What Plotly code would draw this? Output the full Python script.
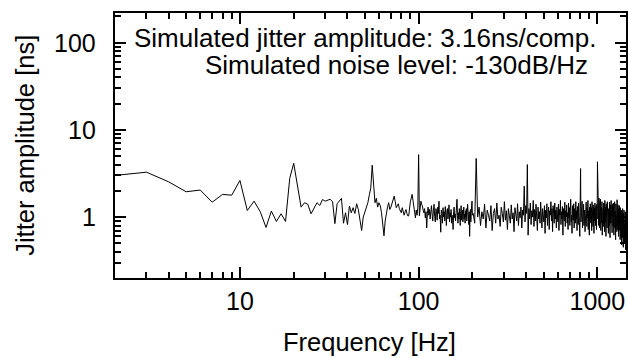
import numpy as np
import plotly.graph_objects as go

# Frequencies [Hz] and jitter amplitude [ns]
freq_low = list(range(2, 31))
amp_low = [3.00, 3.27, 2.53, 1.95, 2.04, 1.48, 1.82, 1.78, 2.63, 1.19,
           1.52, 1.15, 0.76, 1.17, 0.89, 1.09, 0.89, 2.77, 4.14, 2.16,
           1.30, 1.46, 1.40, 1.09, 1.28, 1.46, 1.36, 1.59, 1.52]

freq_mid = list(range(31, 101))
amp_mid = [1.55, 1.60, 1.50, 0.84, 1.42, 1.52, 1.64, 0.85, 1.12, 0.82,
           1.34, 1.12, 1.28, 1.10, 1.42, 1.22, 0.95, 0.70, 1.00, 1.12,
           1.30, 1.46, 1.80, 2.16, 3.93, 2.36, 1.46, 1.64, 1.30, 1.46,
           1.35, 1.12, 0.85, 0.61, 0.90, 1.12, 1.30, 1.46, 1.22, 1.30,
           1.42, 1.55, 1.74, 1.50, 1.28, 1.35, 1.42, 1.25, 1.18, 1.12,
           1.28, 1.15, 1.05, 1.15, 1.22, 1.10, 1.03, 1.03, 1.30, 1.52,
           1.65, 1.82, 1.55, 1.34, 1.15, 0.98, 1.20, 1.05, 1.30, 5.20]

freq_c = list(range(101, 201))
amp_c = [1.03, 1.30, 1.52, 1.40, 1.34, 1.20, 1.12, 1.25, 0.98, 1.15,
         0.75, 1.10, 1.30, 1.05, 1.22, 0.95, 1.18, 1.35, 1.08, 0.90,
         1.20, 1.40, 1.02, 0.88, 1.25, 1.15, 0.92, 1.30, 1.10, 1.52,
         0.95, 1.05, 0.67, 1.20, 1.10, 0.85, 1.28, 1.00, 1.15, 0.90,
         1.32, 1.05, 0.80, 1.18, 1.25, 0.95, 1.10, 1.38, 0.88, 1.12,
         1.00, 1.22, 0.85, 1.05, 0.92, 0.72, 1.15, 1.30, 0.98, 1.08,
         0.90, 1.20, 1.45, 1.60, 1.05, 0.85, 1.12, 0.95, 1.25, 1.02,
         0.80, 1.15, 1.35, 0.92, 1.05, 1.20, 0.88, 1.10, 1.30, 0.95,
         1.08, 0.85, 1.18, 1.00, 1.25, 0.90, 1.12, 1.40, 0.95, 1.05,
         0.82, 1.15, 0.60, 1.00, 1.22, 0.88, 1.10, 1.35, 1.52, 1.05]

freq_high = list(range(202, 1451, 4))
amp_high = [
    1.10, 0.85, 4.70, 1.00, 1.30, 0.80, 1.15, 0.95, 1.40, 0.75, 1.20, 1.05, 0.90, 1.35, 0.70, 1.10, 1.25, 0.85, 1.45, 0.95,
    1.05, 0.78, 1.30, 1.10, 0.88, 1.50, 0.92, 1.18, 0.72, 1.25, 1.00, 0.85, 1.38, 0.95, 1.12, 0.68, 1.28, 1.05, 0.90, 1.42,
    0.80, 1.15, 0.98, 1.30, 0.75, 1.20, 1.05, 2.26, 0.88, 1.35, 1.10, 4.00, 0.62, 1.25, 0.95, 1.45, 0.82, 1.18, 1.00, 1.55,
    0.78, 1.22, 0.90, 1.40, 1.05, 0.70, 1.30, 0.95, 1.15, 0.85, 1.48, 1.00, 0.75, 1.25, 1.10, 0.88, 1.35, 0.65, 1.20, 0.98,
    1.42, 0.80, 1.12, 1.30, 0.72, 1.18, 1.05, 1.50, 0.90, 1.25, 0.68, 1.35, 1.00, 0.85, 1.45, 0.95, 1.20, 0.75, 1.30, 1.08,
    0.88, 1.40, 0.70, 1.22, 1.05, 1.55, 0.82, 1.15, 0.95, 1.32, 0.62, 1.25, 1.10, 0.90, 1.48, 0.78, 1.18, 1.00, 1.38, 0.85,
    1.12, 0.72, 1.45, 0.98, 1.28, 0.80, 1.20, 1.60, 0.88, 1.05, 0.65, 1.35, 1.15, 0.92, 1.42, 0.75, 1.25, 1.02, 0.85, 1.50,
    0.95, 1.18, 0.70, 1.32, 1.08, 0.82, 1.45, 0.90, 1.22, 0.60, 1.38, 3.60, 0.88, 1.15, 1.00, 1.52, 0.75, 1.28, 0.95, 1.40,
    0.80, 1.20, 1.05, 0.68, 1.35, 0.92, 1.48, 1.10, 0.78, 1.25, 0.98, 1.55, 0.72, 1.18, 1.02, 0.62, 1.30, 0.88, 1.42, 1.05,
    0.85, 1.28, 0.70, 1.50, 0.95, 1.15, 0.78, 1.38, 1.05, 0.65, 1.25, 0.90, 1.45, 1.00, 0.80, 1.32, 1.10, 0.72, 1.40, 0.95,
    4.30, 1.70, 0.90, 1.55, 0.80, 1.65, 1.05, 0.75, 1.45, 0.95, 1.60, 0.70, 1.30, 1.10, 0.85, 1.50, 0.62, 1.40, 1.00, 1.25,
    0.78, 1.45, 0.95, 1.20, 0.68, 1.55, 0.88, 1.30, 1.05, 0.60, 1.42, 0.92, 1.18, 0.75, 1.50, 1.00, 0.85, 1.35, 0.65, 1.25,
    1.08, 0.80, 1.48, 0.95, 0.58, 1.38, 1.12, 0.85, 1.55, 0.72, 1.22, 1.00, 0.66, 1.40, 0.90, 1.28, 0.78, 1.45, 1.02, 0.62,
    1.32, 0.88, 1.50, 0.75, 1.18, 0.95, 0.55, 1.42, 1.05, 0.82, 1.30, 0.68, 1.58, 0.92, 1.20, 0.72, 1.38, 0.85, 0.60, 1.25,
    0.95, 0.70, 1.35, 0.80, 1.15, 0.55, 1.28, 0.88, 0.62, 1.20, 0.75, 1.05, 0.48, 1.18, 0.82, 0.58, 1.25, 0.70, 0.95, 0.45,
    1.10, 0.65, 1.20, 0.78, 0.50, 1.05, 0.85, 0.60, 1.15, 0.72, 0.42, 0.98, 0.80]

x_ticks = [10, 100, 1000]
y_ticks = [1, 10, 100]
x_minor = [d * m for m in (1, 10, 100, 1000) for d in range(2, 10)]
y_minor = [d * m for m in (0.1, 1, 10, 100) for d in range(2, 10)]

title_line1 = "Simulated jitter amplitude: 3.16ns/comp."
title_line2 = "Simulated noise level: -130dB/Hz"

freq = freq_low + freq_mid + freq_c + freq_high
amp = amp_low + amp_mid + amp_c + amp_high

FONT = "Liberation Sans, Arial, sans-serif"

fig = go.Figure()
fig.add_trace(go.Scatter(x=freq, y=amp, mode="lines",
                         line=dict(color="black", width=1),
                         showlegend=False, hoverinfo="skip"))

L, R, T, B = 115, 0, 13, 80
W, H = 628, 358
pw, ph = W - L - R, H - T - B

axis_common = dict(type="log", showgrid=False, zeroline=False,
                   showline=True, linecolor="black", linewidth=2,
                   mirror="ticks", ticks="inside", ticklen=11, tickwidth=2,
                   tickcolor="black",
                   tickfont=dict(family=FONT, size=25, color="black"))

fig.update_layout(
    width=W, height=H, autosize=False,
    margin=dict(l=L, r=R, t=T, b=B, pad=0),
    paper_bgcolor="white", plot_bgcolor="white",
    xaxis=dict(axis_common, range=[np.log10(2), np.log10(2) + pw / 179.4],
               tickvals=x_ticks, ticktext=[str(v) for v in x_ticks],
               minor=dict(ticks="inside", ticklen=6, tickwidth=2,
                          tickcolor="black", tickvals=x_minor)),
    yaxis=dict(axis_common, range=[np.log10(0.2), np.log10(0.2) + ph / 87.2],
               tickvals=y_ticks, showticklabels=False,
               minor=dict(ticks="inside", ticklen=6, tickwidth=2,
                          tickcolor="black", tickvals=y_minor)),
)

def px_x(p):
    return (p - L) / pw

def px_y(p):
    return (H - B - p) / ph

# y tick labels, placed right-aligned at a fixed gap left of the axis
for v in y_ticks:
    fig.add_annotation(text=str(v), xref="paper", yref="y",
                       x=px_x(98), y=np.log10(v), xanchor="right", yanchor="middle",
                       showarrow=False, font=dict(family=FONT, size=25, color="black"))

fig.add_annotation(text=title_line1, xref="paper", yref="paper",
                   x=px_x(600), y=px_y(38), xanchor="right", yanchor="middle",
                   showarrow=False, font=dict(family=FONT, size=26, color="black"))
fig.add_annotation(text=title_line2, xref="paper", yref="paper",
                   x=px_x(592), y=px_y(65), xanchor="right", yanchor="middle",
                   showarrow=False, font=dict(family=FONT, size=26, color="black"))
fig.add_annotation(text="Frequency [Hz]", xref="paper", yref="paper",
                   x=px_x(370), y=px_y(342), xanchor="center", yanchor="middle",
                   showarrow=False, font=dict(family=FONT, size=25.5, color="black"))
fig.add_annotation(text="Jitter amplitude [ns]", xref="paper", yref="paper",
                   x=px_x(24), y=0.5, xanchor="center", yanchor="middle",
                   textangle=-90,
                   showarrow=False, font=dict(family=FONT, size=25.5, color="black"))

fig.write_html("out.html", config={"displayModeBar": False},
               post_script="document.body.style.margin='0';document.body.style.overflow='hidden';")
